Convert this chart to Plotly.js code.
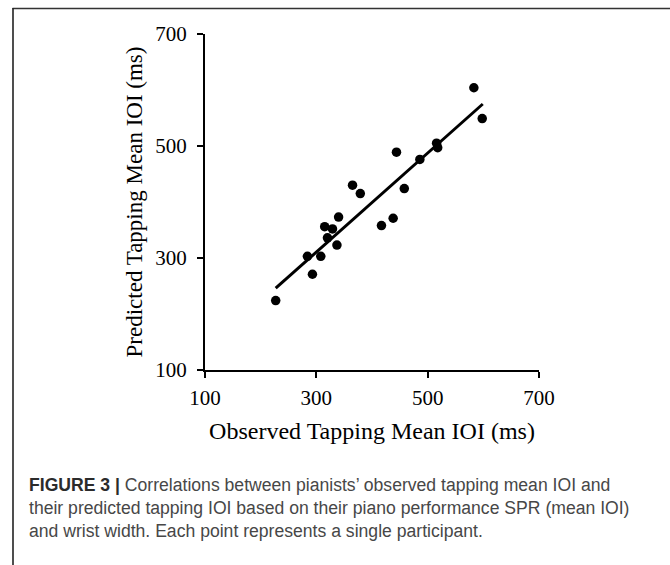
<!DOCTYPE html>
<html>
<head>
<meta charset="utf-8">
<script src="https://cdn.plot.ly/plotly-3.0.1.min.js"></script>
<style>
html,body{margin:0;padding:0;background:#fff;}
#chart{width:670px;height:565px;}
</style>
</head>
<body>
<div id="chart"></div>
<script>
// Observed (x) vs predicted (y) tapping mean IOI, ms — one point per participant
var observedIOI = [227, 284, 293, 308, 315, 329, 320, 340, 337, 365, 379, 417, 438, 444, 458, 486, 516, 518, 583, 598];
var predictedIOI = [224, 303, 271, 303, 356, 352, 336, 373, 323, 430, 415, 358, 371, 489, 424, 476, 505, 497, 604, 549];
// Regression line end points
var fitX = [227, 599];
var fitY = [246, 575];
var axisTicks = [100, 300, 500, 700];
var xTitle = "Observed Tapping Mean IOI (ms)";
var yTitle = "Predicted Tapping Mean IOI (ms)";
var captionLines = [
  "<b><span style=\"color:#2b2b2b\">FIGURE 3 |</span></b> Correlations between pianists’ observed tapping mean IOI and",
  "their predicted tapping IOI based on their piano performance SPR (mean IOI)",
  "and wrist width. Each point represents a single participant."
];

var W = 670, H = 565;
var m = {l: 205, r: 131, t: 34, b: 195};
var pw = W - m.l - m.r, ph = H - m.t - m.b;
function px(X){ return (X - m.l) / pw; }
function py(Y){ return (H - m.b - Y) / ph; }

var traces = [
  {x: fitX, y: fitY, type: 'scatter', mode: 'lines',
   line: {color: '#000', width: 3}, hoverinfo: 'skip', showlegend: false},
  {x: observedIOI, y: predictedIOI, type: 'scatter', mode: 'markers',
   marker: {color: '#000', size: 9.5}, showlegend: false}
];

var serif = 'Liberation Serif, Times New Roman, serif';
var axisCommon = {
  range: [100, 700], tickvals: axisTicks, ticktext: axisTicks.map(String),
  showgrid: false, zeroline: false, showline: true, linecolor: '#000', linewidth: 2,
  ticks: 'outside', ticklen: 6, tickwidth: 2, tickcolor: '#000',
  tickfont: {family: serif, size: 21, color: '#000'}, automargin: false, fixedrange: true
};

var annotations = captionLines.map(function(t, i){
  return {text: t, xref: 'paper', yref: 'paper', x: px(27), y: py(485 + 23 * i),
          xanchor: 'left', yanchor: 'middle', showarrow: false, align: 'left',
          font: {family: 'Liberation Sans, Arial, sans-serif', size: 17.6, color: '#474747'}};
});

var shapes = [
  {type: 'line', xref: 'paper', yref: 'paper', x0: px(12.5), x1: px(670), y0: py(8.5), y1: py(8.5),
   line: {color: '#333', width: 1.6}},
  {type: 'line', xref: 'paper', yref: 'paper', x0: px(13), x1: px(13), y0: py(8), y1: py(565),
   line: {color: '#222', width: 1.6}}
];

var layout = {
  width: W, height: H, margin: m,
  paper_bgcolor: '#fff', plot_bgcolor: '#fff',
  xaxis: Object.assign({}, axisCommon, {
    ticklabelstandoff: 2,
    title: {text: xTitle, font: {family: serif, size: 24, color: '#000'}, standoff: 13}
  }),
  yaxis: Object.assign({}, axisCommon, {
    ticklabelstandoff: 6,
    title: {text: yTitle, font: {family: serif, size: 23, color: '#000'}, standoff: 6}
  }),
  annotations: annotations,
  shapes: shapes,
  showlegend: false
};

Plotly.newPlot('chart', traces, layout, {displayModeBar: false, staticPlot: true});
</script>
</body>
</html>
